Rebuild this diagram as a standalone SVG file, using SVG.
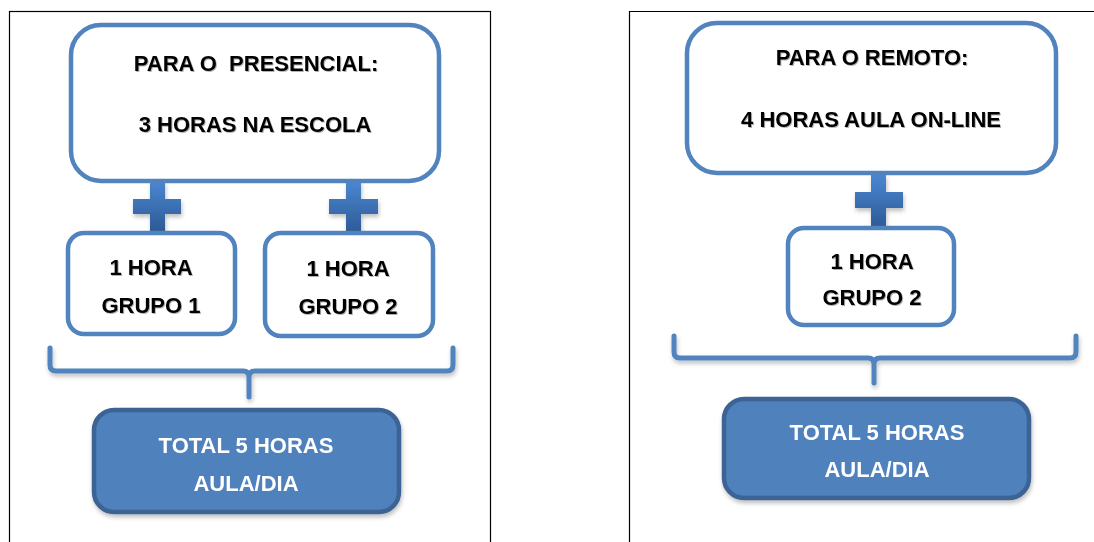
<svg xmlns="http://www.w3.org/2000/svg" width="1094" height="542" viewBox="0 0 1094 542">
<defs>
<linearGradient id="plusGrad" x1="0" y1="0" x2="0" y2="1">
<stop offset="0" stop-color="#4a87d2"/>
<stop offset="1" stop-color="#2d5a94"/>
</linearGradient>
<filter id="sh" x="-10%" y="-10%" width="130%" height="140%">
<feDropShadow dx="1" dy="3" stdDeviation="2" flood-color="#000" flood-opacity="0.25"/>
</filter>
<filter id="tsh" x="-5%" y="-20%" width="110%" height="150%">
<feDropShadow dx="1" dy="1" stdDeviation="0.6" flood-color="#000" flood-opacity="0.3"/>
</filter>
</defs>
<style>
.frame{fill:none;stroke:#000;stroke-width:1.2}
.box{fill:#fff;stroke:#5183bf;stroke-width:4.5}
.total{fill:#4f81bd;stroke:#3b6394;stroke-width:4.5}
.brace{fill:none;stroke:#5183bf;stroke-width:5;stroke-linecap:round;stroke-linejoin:round}
.plus{fill:url(#plusGrad)}
text{font-family:"Liberation Sans",Arial,sans-serif;font-weight:bold;font-size:22px;text-anchor:middle}
.dark{fill:#000}
.light{fill:#fff}
</style>
<rect width="1094" height="542" fill="#fff"/>
<g id="frames">
<rect class="frame" x="9.5" y="11.5" width="481" height="560"/>
<path class="frame" d="M629.5 560 V11.5 H1100"/>
</g>
<g id="connectors">
<g filter="url(#sh)">
<path class="plus" d="M150 181 H165 V199 H181 V214 H165 V231 H150 V214 H133 V199 H150 Z"/>
<path class="plus" d="M346 181 H361 V199 H378 V214 H361 V233 H346 V214 H329 V199 H346 Z"/>
<path class="plus" d="M871 175 H886 V192 H903 V208 H886 V228 H871 V208 H855 V192 H871 Z"/>
</g>
<g filter="url(#sh)">
<path class="brace" d="M50 348 V365 Q50 371 56 371 H243 Q249 371 249 377 V397 M249 377 Q249 371 255 371 H447 Q453 371 453 365 V348"/>
<path class="brace" d="M674 336 V352 Q674 358 680 358 H868 Q874 358 874 364 V383 M874 364 Q874 358 880 358 H1070 Q1076 358 1076 352 V336"/>
</g>
</g>
<g id="presencial">
<rect class="box" x="71" y="25" width="368" height="156" rx="30"/>
<g filter="url(#tsh)">
<text class="dark" x="256" y="71" xml:space="preserve">PARA O  PRESENCIAL:</text>
<text class="dark" x="255" y="132">3 HORAS NA ESCOLA</text>
</g>
</g>
<g id="grupo1">
<rect class="box" x="68" y="233" width="167" height="101" rx="16"/>
<g filter="url(#tsh)">
<text class="dark" x="151" y="275">1 HORA</text>
<text class="dark" x="151" y="313">GRUPO 1</text>
</g>
</g>
<g id="grupo2">
<rect class="box" x="265" y="233" width="168" height="103" rx="16"/>
<g filter="url(#tsh)">
<text class="dark" x="348" y="276">1 HORA</text>
<text class="dark" x="348" y="314">GRUPO 2</text>
</g>
</g>
<g id="total-presencial" filter="url(#sh)">
<rect class="total" x="94" y="410" width="305" height="102" rx="20"/>
<text class="light" x="246" y="453">TOTAL 5 HORAS</text>
<text class="light" x="246" y="491">AULA/DIA</text>
</g>
<g id="remoto">
<rect class="box" x="687" y="23" width="369" height="150" rx="30"/>
<g filter="url(#tsh)">
<text class="dark" x="872" y="65">PARA O REMOTO:</text>
<text class="dark" x="871" y="127">4 HORAS AULA ON-LINE</text>
</g>
</g>
<g id="grupo2-remoto">
<rect class="box" x="788" y="228" width="166" height="97" rx="16"/>
<g filter="url(#tsh)">
<text class="dark" x="872" y="269">1 HORA</text>
<text class="dark" x="872" y="305">GRUPO 2</text>
</g>
</g>
<g id="total-remoto" filter="url(#sh)">
<rect class="total" x="724" y="399" width="305" height="99" rx="20"/>
<text class="light" x="877" y="440">TOTAL 5 HORAS</text>
<text class="light" x="877" y="477">AULA/DIA</text>
</g>
</svg>
